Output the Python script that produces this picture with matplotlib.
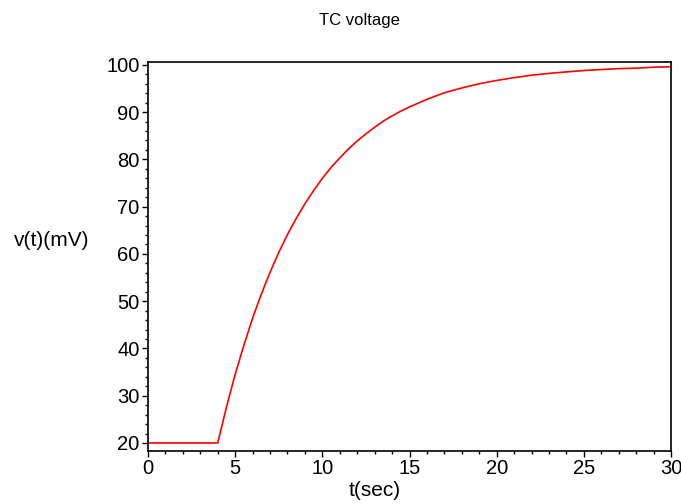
"""
TC voltage step response, redrawn in the old Maple plot style.
"""

import matplotlib
matplotlib.use('Agg')
import matplotlib.pyplot as plt
from matplotlib.ticker import MultipleLocator

# values
t_sec = [0, 4, 4.5, 5, 5.5, 6, 6.5, 7, 7.5, 8, 8.5, 9, 9.5, 10, 10.5, 11,
         11.5, 12, 12.5, 13, 13.5, 14, 14.5, 15, 16, 17, 18, 19, 20, 21, 22,
         23, 24, 25, 26, 27, 28, 29, 30]
v_mv = [20, 20, 27.6, 34.5, 40.7, 46.4, 51.5, 56.1, 60.3, 64.1, 67.5, 70.6,
        73.4, 76.0, 78.3, 80.3, 82.2, 83.9, 85.4, 86.8, 88.1, 89.2, 90.2,
        91.1, 92.7, 94.1, 95.1, 96.0, 96.7, 97.3, 97.8, 98.2, 98.5, 98.8,
        99.0, 99.2, 99.3, 99.5, 99.6]

plt.rcParams['font.family'] = ['Liberation Sans', 'DejaVu Sans']

fig = plt.figure(figsize=(6.81, 5.04), dpi=100)
ax = fig.add_axes([148/681, 53/504, 523/681, 389/504])

ax.plot(t_sec, v_mv, color='red', lw=1.2)

ax.set_xlim(0, 30)
ax.set_ylim(18.3, 100.6)
ax.xaxis.set_major_locator(MultipleLocator(5))
ax.xaxis.set_minor_locator(MultipleLocator(1))
ax.yaxis.set_major_locator(MultipleLocator(10))
ax.yaxis.set_minor_locator(MultipleLocator(2))
ax.set_yticks(range(20, 101, 10))
ax.tick_params(which='major', length=4, width=1, labelsize=14.5, pad=2)
ax.tick_params(which='minor', length=2, width=1)
for s in ax.spines.values():
    s.set_linewidth(1.2)

fig.text(359/681, 1 - 20/504, 'TC voltage', ha='center', va='center',
         fontsize=12)
fig.text(375/681, 1 - 490/504, 't(sec)', ha='center', va='center',
         fontsize=15)
fig.text(52/681, 1 - 240/504, 'v(t)(mV)', ha='center', va='center',
         fontsize=15)

fig.savefig('out.png', dpi=100)
